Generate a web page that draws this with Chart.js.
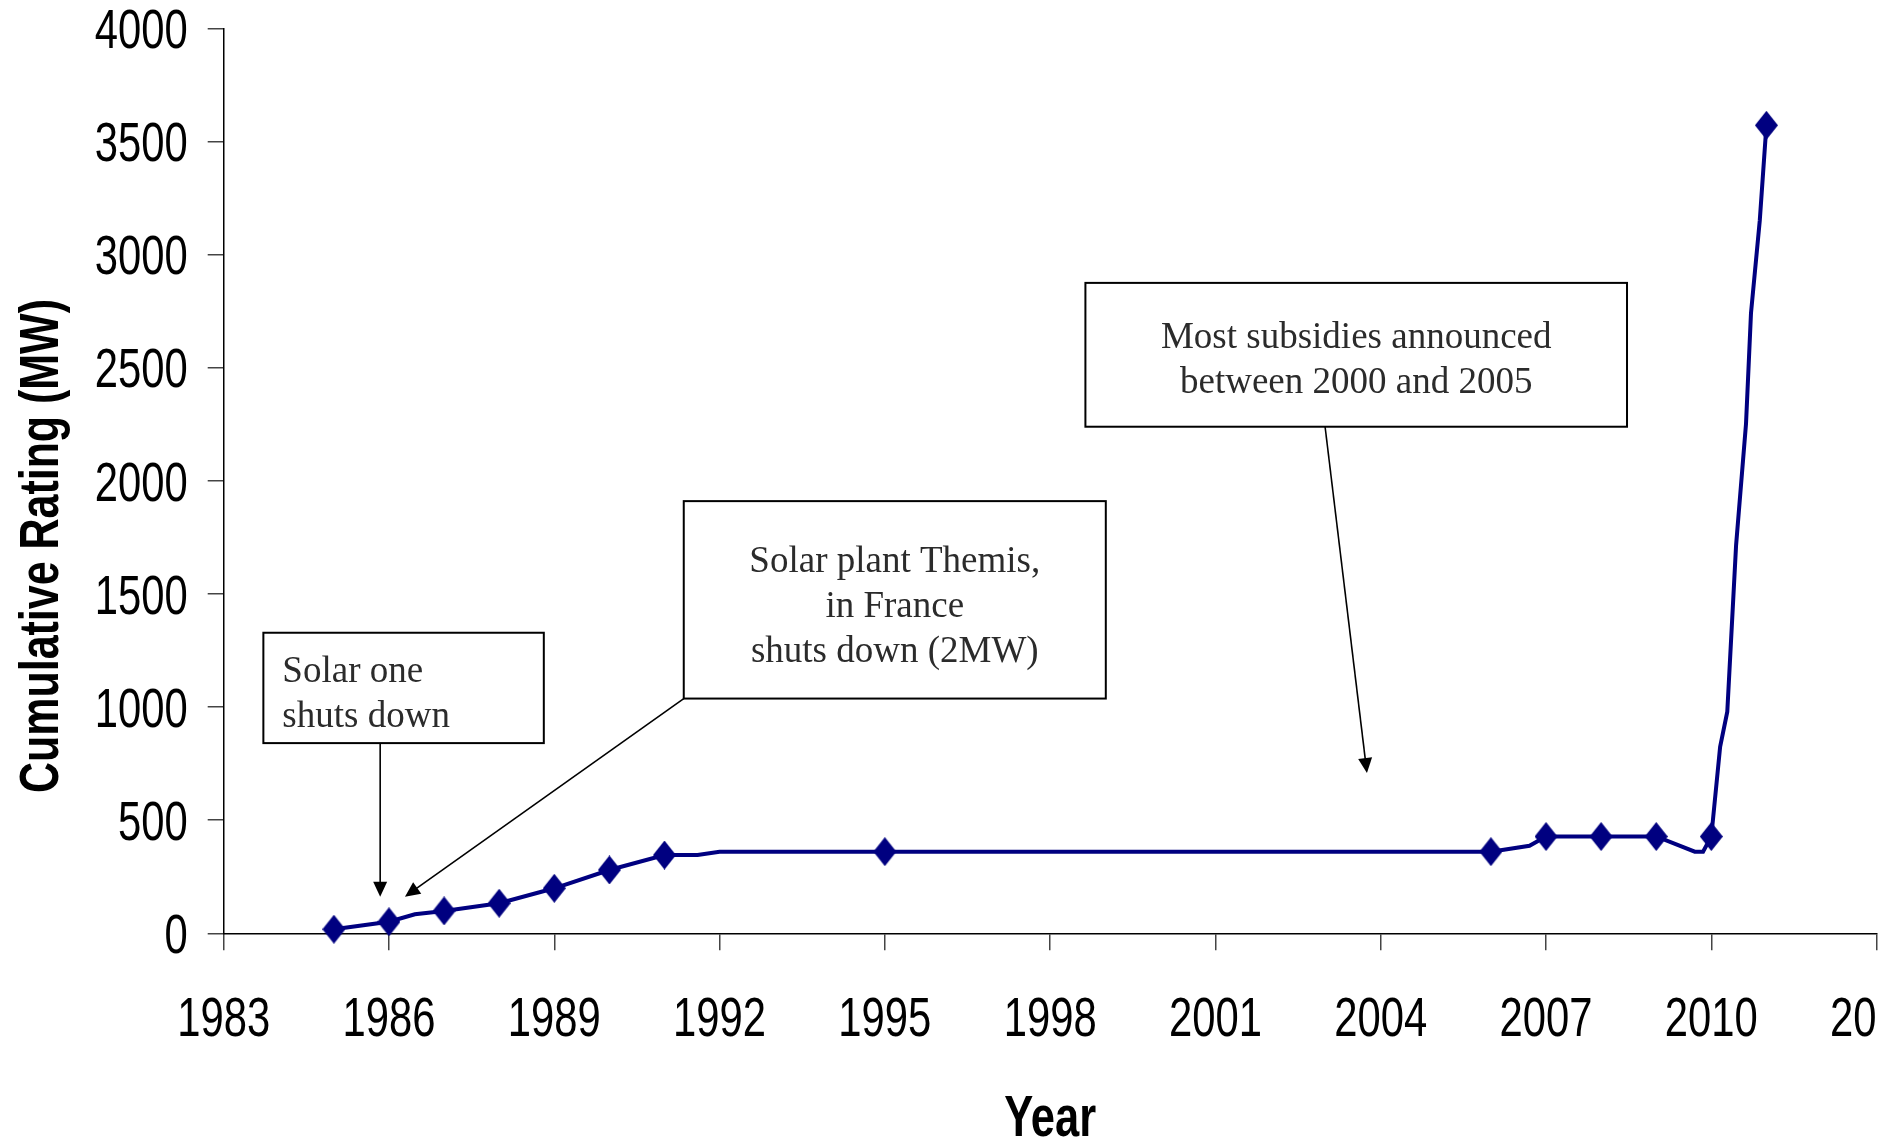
<!DOCTYPE html>
<html>
<head>
<meta charset="utf-8">
<script src="https://cdn.jsdelivr.net/npm/chart.js@4.4.1/dist/chart.umd.min.js"></script>
<style>
  html, body { margin: 0; padding: 0; background: #fff; overflow: hidden; }
  #wrap { position: relative; width: 1940px; height: 1142px; }
</style>
</head>
<body>
<div id="wrap"><canvas id="chart"></canvas></div>
<script>
// Cumulative rating of concentrating solar plants (MW); fractional years are mid-year steps
const years = [1985, 1986, 1986.47, 1987, 1988, 1989, 1990, 1991, 1991.6, 1992, 1995,
  2006, 2006.7, 2007, 2008, 2009, 2009.7, 2009.85, 2010,
  2010.16, 2010.29, 2010.45, 2010.63, 2010.72, 2010.88, 2011];
const ratingMW = [18, 51, 84, 99, 133, 199, 280, 346, 346, 361, 361,
  361, 387, 428, 428, 428, 361, 361, 428,
  825, 980, 1717, 2254, 2741, 3153, 3573];
// years that carry a diamond marker
const markedYears = [1985, 1986, 1987, 1988, 1989, 1990, 1991, 1995, 2006, 2007, 2008, 2009, 2010, 2011];

const xTicks = [1983, 1986, 1989, 1992, 1995, 1998, 2001, 2004, 2007, 2010, 2013];
const yTicks = [0, 500, 1000, 1500, 2000, 2500, 3000, 3500, 4000];

const xTitle = 'Year';
const yTitle = 'Cumulative Rating (MW)';

// callouts: box corners and arrow ends in data units (year, MW)
const callouts = [
  { lines: ['Solar one', 'shuts down'], align: 'left',
    box: [1983.72, 1329, 1988.81, 841], firstBase: 49, lineGap: 45,
    arrows: [[1985.84, 841, 1985.84, 162]] },
  { lines: ['Solar plant Themis,', 'in France', 'shuts down (2MW)'], align: 'center',
    box: [1991.35, 1911, 1999.01, 1038], firstBase: 71, lineGap: 45,
    arrows: [[1991.35, 1038, 1986.29, 162]] },
  { lines: ['Most subsidies announced', 'between 2000 and 2005'], align: 'center',
    box: [1998.64, 2876, 2008.47, 2240], firstBase: 65, lineGap: 45.5,
    arrows: [[2002.99, 2240, 2003.75, 709]] }
];

const NAVY = '#000080';
const SANS = "'Liberation Sans', Arial, sans-serif";
const SERIF = "'Liberation Serif', 'DejaVu Serif', serif";
const NARROW_X = 0.76;   // horizontal squeeze giving a narrow sans face

// tall diamond marker
const diamond = document.createElement('canvas');
diamond.width = 23; diamond.height = 29;
(function () {
  const g = diamond.getContext('2d');
  g.fillStyle = NAVY;
  g.beginPath();
  g.moveTo(11.5, 0); g.lineTo(23, 14.5); g.lineTo(11.5, 29); g.lineTo(0, 14.5);
  g.closePath(); g.fill();
})();

const points = years.map((y, i) => ({ x: y, y: ratingMW[i] }));

function narrowText(ctx, text, x, y, align, sx, sy) {
  ctx.save();
  ctx.translate(x, y);
  ctx.scale(sx, sy);
  ctx.textAlign = align;
  ctx.textBaseline = 'alphabetic';
  ctx.fillText(text, 0, 0);
  ctx.restore();
}

function arrowHead(ctx, x0, y0, x1, y1) {
  const a = Math.atan2(y1 - y0, x1 - x0);
  const len = 15, half = 7;
  ctx.beginPath();
  ctx.moveTo(x1, y1);
  ctx.lineTo(x1 - len * Math.cos(a) + half * Math.sin(a), y1 - len * Math.sin(a) - half * Math.cos(a));
  ctx.lineTo(x1 - len * Math.cos(a) - half * Math.sin(a), y1 - len * Math.sin(a) + half * Math.cos(a));
  ctx.closePath();
  ctx.fill();
}

const extras = {
  id: 'extras',
  afterDraw(chart) {
    const { ctx, chartArea, scales } = chart;
    const xs = scales.x, ys = scales.y;

    ctx.save();
    ctx.fillStyle = '#000';

    // tick labels
    ctx.font = '55px ' + SANS;
    xTicks.forEach(v => narrowText(ctx, String(v), xs.getPixelForValue(v), chartArea.bottom + 103, 'center', NARROW_X, 1));
    yTicks.forEach(v => narrowText(ctx, String(v), chartArea.left - 36, ys.getPixelForValue(v) + 19.5, 'right', NARROW_X, 1));

    // axis titles
    ctx.font = 'bold 56px ' + SANS;
    ctx.save();
    ctx.translate(58, (chartArea.top + chartArea.bottom) / 2 + 65);
    ctx.rotate(-Math.PI / 2);
    narrowText(ctx, yTitle, 0, 0, 'center', 0.767, 1);
    ctx.restore();
    ctx.font = 'bold 58px ' + SANS;
    narrowText(ctx, xTitle, (chartArea.left + chartArea.right) / 2, 1136, 'center', 0.75, 1);
    ctx.restore();

    // callout boxes and arrows
    ctx.save();
    callouts.forEach(c => {
      const l = xs.getPixelForValue(c.box[0]), t = ys.getPixelForValue(c.box[1]);
      const r = xs.getPixelForValue(c.box[2]), b = ys.getPixelForValue(c.box[3]);
      ctx.fillStyle = '#fff';
      ctx.fillRect(l, t, r - l, b - t);
      ctx.strokeStyle = '#000';
      ctx.lineWidth = 2;
      ctx.strokeRect(l, t, r - l, b - t);

      ctx.fillStyle = '#2b2b2b';
      ctx.font = '37px ' + SERIF;
      ctx.textBaseline = 'alphabetic';
      ctx.textAlign = c.align;
      const tx = c.align === 'left' ? l + 19 : (l + r) / 2;
      c.lines.forEach((s, i) => ctx.fillText(s, tx, t + c.firstBase + i * c.lineGap));

      c.arrows.forEach(a => {
        const x0 = xs.getPixelForValue(a[0]), y0 = ys.getPixelForValue(a[1]);
        const x1 = xs.getPixelForValue(a[2]), y1 = ys.getPixelForValue(a[3]);
        ctx.strokeStyle = '#000';
        ctx.lineWidth = 1.6;
        ctx.beginPath();
        ctx.moveTo(x0, y0);
        const ang = Math.atan2(y1 - y0, x1 - x0);
        ctx.lineTo(x1 - 12 * Math.cos(ang), y1 - 12 * Math.sin(ang));
        ctx.stroke();
        ctx.fillStyle = '#000';
        arrowHead(ctx, x0, y0, x1, y1);
      });
    });
    ctx.restore();
  }
};

new Chart(document.getElementById('chart'), {
  type: 'line',
  data: {
    datasets: [{
      data: points,
      borderColor: NAVY,
      backgroundColor: NAVY,
      borderWidth: 4,
      tension: 0,
      pointStyle: diamond,
      pointRadius: ctx => markedYears.includes(years[ctx.dataIndex]) ? 11 : 0,
      pointHoverRadius: ctx => markedYears.includes(years[ctx.dataIndex]) ? 11 : 0,
      clip: false
    }]
  },
  options: {
    responsive: true,
    maintainAspectRatio: false,
    animation: false,
    events: [],
    layout: { padding: { top: 28.7, right: 63.4, bottom: 0, left: 0 } },
    plugins: { legend: { display: false }, tooltip: { enabled: false }, title: { display: false } },
    scales: {
      x: {
        type: 'linear',
        min: 1983, max: 2013,
        afterBuildTicks: s => { s.ticks = xTicks.map(v => ({ value: v })); },
        afterFit: s => { s.height = 208.7; },
        grid: { drawOnChartArea: false, drawTicks: true, tickLength: 17, color: '#444', lineWidth: 1.5 },
        border: { display: true, color: '#000', width: 1.5 },
        ticks: { display: false }
      },
      y: {
        type: 'linear',
        min: 0, max: 4000,
        afterBuildTicks: s => { s.ticks = yTicks.map(v => ({ value: v })); },
        afterFit: s => { s.width = 223.7; },
        grid: { drawOnChartArea: false, drawTicks: true, tickLength: 16, color: '#444', lineWidth: 1.5 },
        border: { display: true, color: '#000', width: 1.5 },
        ticks: { display: false }
      }
    }
  },
  plugins: [extras]
});
</script>
</body>
</html>
